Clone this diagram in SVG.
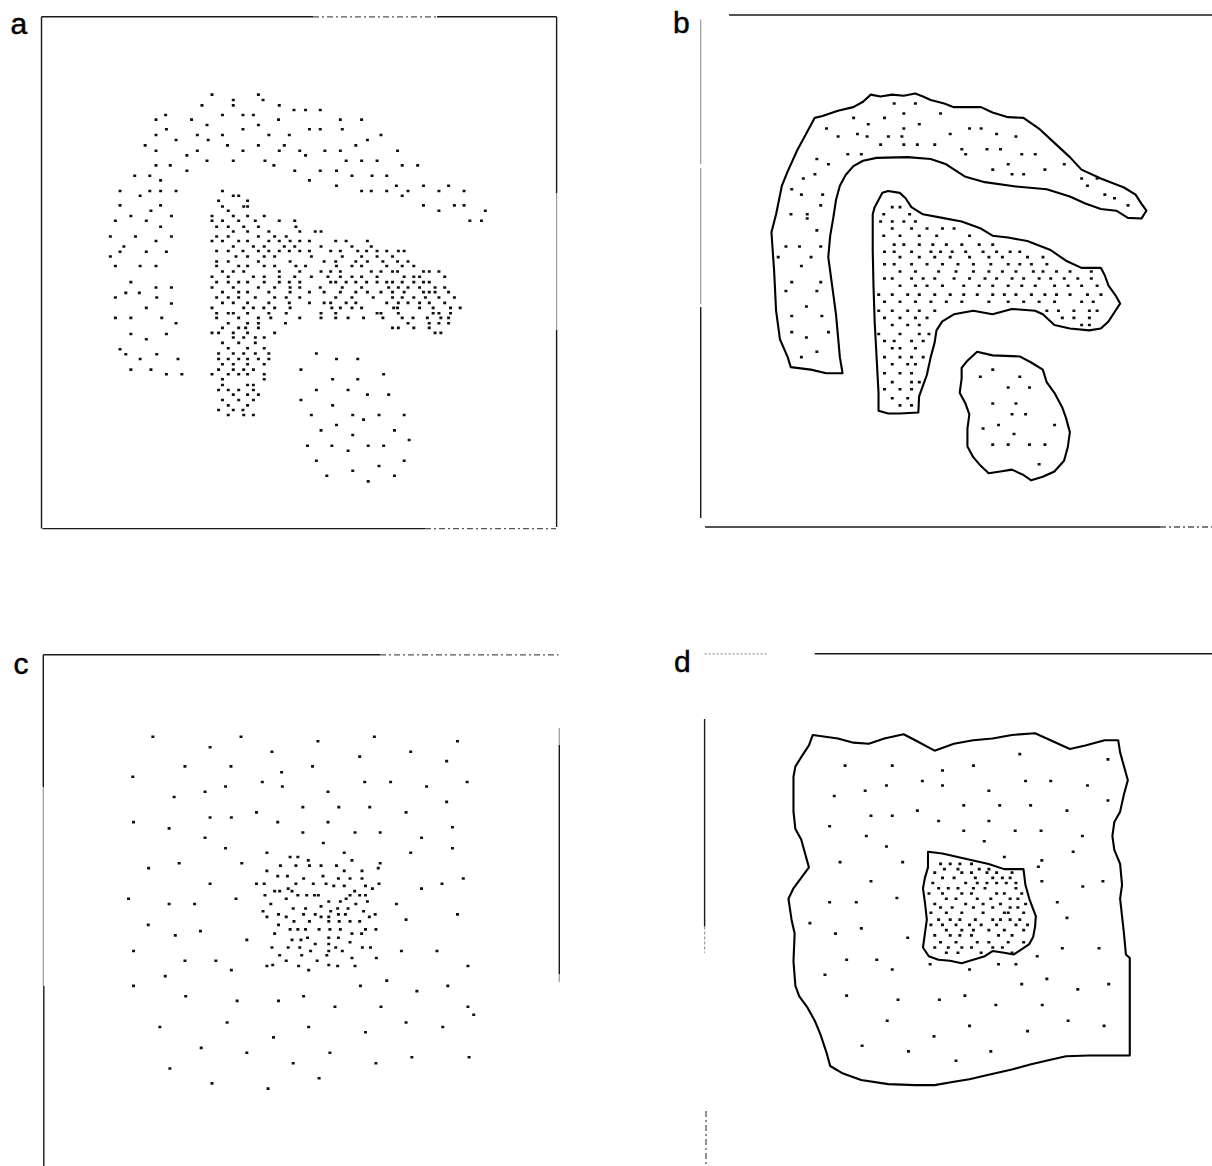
<svg xmlns="http://www.w3.org/2000/svg" width="1212" height="1166" viewBox="0 0 1212 1166">
<style>
.fr{stroke:#1a1a1a;stroke-width:1.4;fill:none}
.fl{stroke:#9a9a9a;stroke-width:1.2;fill:none}
.fd{stroke:#555;stroke-width:1.3;fill:none;stroke-dasharray:6 3 2 3}
.dots{fill:none;stroke:#111;stroke-width:2.6;stroke-linecap:square}
.ol{fill:none;stroke:#000;stroke-width:2.1;stroke-linejoin:round}
.lbl{font-family:"Liberation Sans",Arial,sans-serif;font-size:30px;fill:#000;stroke:#000;stroke-width:0.5}
</style>
<rect width="1212" height="1166" fill="#fff"/>

<g id="panel-a">
<text class="lbl" x="10.5" y="34">a</text>
<g id="frame-a">
<line class="fr" x1="41.5" y1="16.8" x2="313" y2="16.8"/>
<line class="fd" x1="313" y1="16.8" x2="437" y2="16.8"/>
<line class="fr" x1="437" y1="16.8" x2="556.6" y2="16.8"/>
<line class="fr" x1="41.5" y1="16.8" x2="41.5" y2="528.6"/>
<line class="fr" x1="556.6" y1="16.8" x2="556.6" y2="193"/>
<line class="fl" x1="556.6" y1="193" x2="556.6" y2="330"/>
<line class="fr" x1="556.6" y1="330" x2="556.6" y2="527"/>
<line class="fr" x1="42.5" y1="528.6" x2="425" y2="528.6"/>
<line class="fd" x1="425" y1="528.6" x2="556" y2="528.6"/>
</g>
<g id="dots-a" transform="scale(0.38655,0.35714)">
<path class="dots" vector-effect="non-scaling-stroke" d="M548 265h1M668 265h1M603 280h1M680 280h1M522 295h1M603 295h1M722 295h1M760 308h1M790 308h1M828 308h1M428 322h1M575 322h1M628 322h1M655 322h1M403 335h1M495 335h1M720 335h1M880 335h1M935 335h1M535 350h1M668 350h1M430 362h1M628 362h1M800 362h1M828 362h1M885 362h1M403 378h1M510 378h1M575 378h1M695 378h1M748 378h1M985 378h1M455 392h1M538 392h1M950 392h1M375 407h1M588 407h1M668 407h1M735 407h1M920 407h1M403 422h1M510 422h1M628 422h1M722 422h1M775 422h1M840 422h1M880 422h1M1028 422h1M483 435h1M790 435h1M535 450h1M603 450h1M685 450h1M895 450h1M935 450h1M975 450h1M403 463h1M440 463h1M708 463h1M1040 463h1M1080 463h1M483 478h1M762 478h1M828 478h1M870 478h1M348 492h1M387 492h1M910 492h1M962 492h1M1000 492h1M415 505h1M800 505h1M870 520h1M1025 520h1M1095 520h1M1160 520h1M310 535h1M387 535h1M415 535h1M455 535h1M935 535h1M960 535h1M1000 535h1M1055 535h1M1135 535h1M1200 535h1M362 548h1M1040 548h1M310 575h1M415 575h1M1095 575h1M1175 575h1M1200 575h1M390 590h1M1135 590h1M1255 590h1M338 605h1M443 605h1M298 618h1M378 618h1M1215 618h1M1245 618h1M415 635h1M285 662h1M350 662h1M443 662h1M403 675h1M320 690h1M310 705h1M378 705h1M430 705h1M285 718h1M298 745h1M362 745h1M403 745h1M338 790h1M403 805h1M443 805h1M325 820h1M360 820h1M298 833h1M405 833h1M443 850h1M378 862h1M298 890h1M338 890h1M418 890h1M455 905h1M338 935h1M430 935h1M378 950h1M310 978h1M325 992h1M405 992h1M362 1005h1M460 1005h1M338 1035h1M390 1035h1M430 1048h1M470 1048h1"/>
<path class="dots" vector-effect="non-scaling-stroke" d="M575 535h1M603 548h1M617 548h1M565 562h1M640 562h1M575 578h1M630 578h1M640 578h1M590 590h1M548 605h1M603 605h1M640 605h1M683 605h1M548 618h1M575 618h1M617 618h1M660 618h1M722 618h1M762 618h1M560 635h1M590 635h1M630 635h1M668 635h1M765 635h1M603 648h1M640 648h1M695 648h1M775 648h1M815 648h1M830 648h1M560 662h1M590 662h1M668 662h1M710 662h1M740 662h1M548 675h1M575 675h1M617 675h1M640 675h1M695 675h1M722 675h1M750 675h1M775 675h1M800 675h1M868 675h1M895 675h1M950 675h1M603 690h1M655 690h1M683 690h1M735 690h1M762 690h1M830 690h1M910 690h1M960 690h1M560 703h1M590 703h1M628 703h1M668 703h1M695 703h1M722 703h1M748 703h1M775 703h1M800 703h1M855 703h1M880 703h1M925 703h1M948 703h1M975 703h1M1000 703h1M1030 703h1M1045 703h1M610 718h1M640 718h1M683 718h1M710 718h1M805 718h1M885 718h1M935 718h1M975 718h1M1015 718h1M560 732h1M590 732h1M668 732h1M750 732h1M838 732h1M868 732h1M920 732h1M950 732h1M990 732h1M1028 732h1M1055 732h1M560 745h1M617 745h1M640 745h1M683 745h1M710 745h1M765 745h1M790 745h1M870 745h1M910 745h1M935 745h1M1000 745h1M1040 745h1M1070 745h1M575 760h1M603 760h1M630 760h1M722 760h1M775 760h1M830 760h1M855 760h1M880 760h1M960 760h1M985 760h1M1015 760h1M1028 760h1M1095 760h1M1110 760h1M1135 760h1M548 775h1M590 775h1M655 775h1M683 775h1M722 775h1M762 775h1M805 775h1M848 775h1M880 775h1M910 775h1M935 775h1M975 775h1M1045 775h1M1070 775h1M1085 775h1M1150 775h1M560 790h1M590 790h1M617 790h1M640 790h1M683 790h1M722 790h1M748 790h1M775 790h1M855 790h1M868 790h1M895 790h1M920 790h1M948 790h1M975 790h1M1000 790h1M1015 790h1M1040 790h1M1070 790h1M1095 790h1M1110 790h1M548 805h1M603 805h1M668 805h1M710 805h1M750 805h1M775 805h1M828 805h1M885 805h1M935 805h1M1005 805h1M1030 805h1M1055 805h1M1085 805h1M1125 805h1M1150 805h1M575 818h1M617 818h1M640 818h1M695 818h1M750 818h1M800 818h1M838 818h1M880 818h1M920 818h1M950 818h1M985 818h1M1015 818h1M1045 818h1M1095 818h1M1110 818h1M1125 818h1M1160 818h1M560 833h1M590 833h1M617 833h1M660 833h1M710 833h1M740 833h1M775 833h1M868 833h1M910 833h1M965 833h1M1015 833h1M1040 833h1M1070 833h1M1100 833h1M1135 833h1M1175 833h1M575 848h1M603 848h1M640 848h1M695 848h1M748 848h1M800 848h1M838 848h1M855 848h1M895 848h1M920 848h1M1000 848h1M1030 848h1M1055 848h1M1085 848h1M1110 848h1M1150 848h1M548 862h1M630 862h1M655 862h1M682 862h1M710 862h1M750 862h1M858 862h1M880 862h1M910 862h1M935 862h1M1018 862h1M1028 862h1M1085 862h1M1120 862h1M1165 862h1M1190 862h1M560 877h1M590 877h1M603 877h1M640 877h1M695 877h1M740 877h1M830 877h1M868 877h1M975 877h1M985 877h1M1030 877h1M1120 877h1M1135 877h1M1165 877h1M560 890h1M617 890h1M668 890h1M700 890h1M775 890h1M830 890h1M868 890h1M900 890h1M940 890h1M990 890h1M1040 890h1M1068 890h1M1105 890h1M1140 890h1M1160 890h1M590 905h1M640 905h1M668 905h1M738 905h1M1055 905h1M1110 905h1M1135 905h1M1160 905h1M575 918h1M617 918h1M635 918h1M668 918h1M1015 918h1M1030 918h1M1070 918h1M1110 918h1M548 932h1M565 932h1M603 932h1M640 932h1M710 932h1M1125 932h1M1140 932h1M603 945h1M630 945h1M660 945h1M683 945h1M575 960h1M617 960h1M660 960h1M590 975h1M640 975h1M683 975h1M565 990h1M603 990h1M630 990h1M660 990h1M695 990h1M565 1005h1M590 1005h1M617 1005h1M640 1005h1M668 1005h1M695 1005h1M575 1020h1M603 1020h1M640 1020h1M683 1020h1M565 1035h1M603 1035h1M630 1035h1M655 1035h1M548 1048h1M590 1048h1M617 1048h1M640 1048h1M683 1048h1M575 1062h1M683 1062h1M575 1078h1M640 1078h1M655 1078h1M565 1092h1M590 1092h1M617 1092h1M655 1092h1M603 1105h1M640 1105h1M668 1105h1M575 1120h1M617 1120h1M655 1120h1M590 1135h1M640 1135h1M565 1148h1M603 1148h1M628 1148h1M590 1162h1M630 1162h1M655 1162h1"/>
<path class="dots" vector-effect="non-scaling-stroke" d="M818 990h1M870 1005h1M925 1005h1M778 1035h1M992 1048h1M860 1062h1M925 1062h1M818 1092h1M900 1092h1M950 1105h1M1005 1105h1M778 1120h1M860 1135h1M805 1162h1M912 1162h1M980 1162h1M1045 1162h1M940 1175h1M870 1190h1M830 1205h1M1020 1205h1M912 1218h1M1058 1232h1M795 1248h1M858 1248h1M952 1248h1M992 1248h1M900 1262h1M818 1290h1M1045 1290h1M980 1305h1M912 1318h1M845 1332h1M1020 1332h1M952 1348h1"/>
</g>
</g>

<g id="panel-b">
<text class="lbl" x="673" y="33">b</text>
<g id="frame-b">
<line class="fl" x1="700.7" y1="19.6" x2="700.7" y2="164"/>
<line class="fl" x1="700.7" y1="168" x2="700.7" y2="304"/>
<line class="fr" x1="700.7" y1="307" x2="700.7" y2="518"/>
<line class="fr" x1="729" y1="15" x2="1212" y2="15"/>
<line class="fr" x1="705" y1="527" x2="1160" y2="527"/>
<line class="fd" x1="1160" y1="527" x2="1212" y2="527"/>
</g>
<g id="shapes-b" transform="translate(606,0) scale(0.38655,0.35714)">
<path id="b-arc" class="ol" vector-effect="non-scaling-stroke" d="M478 1028L470 1000L450 950L440 870L435 760L428 650L440 600L455 520L470 480L495 420L515 380L530 350L540 330L560 325L600 310L640 300L665 285L685 265L710 270L740 265L770 268L800 262L820 270L840 280L875 290L900 300L970 300L1000 315L1040 328L1080 330L1120 360L1160 400L1200 440L1230 475L1280 500L1340 525L1370 545L1385 570L1398 590L1385 612L1350 610L1320 590L1280 585L1240 570L1200 550L1140 530L1060 522L980 510L930 495L880 460L840 445L780 440L700 442L665 450L640 465L620 490L605 520L595 560L588 610L580 660L575 720L585 800L595 880L600 940L605 1000L612 1045L570 1045L530 1035Z"/>
<path id="b-t" class="ol" vector-effect="non-scaling-stroke" d="M705 1150L705 1100L700 1000L695 900L692 800L690 700L690 600L695 580L705 560L715 540L730 535L760 540L775 555L790 580L820 600L870 610L920 620L970 640L1000 660L1040 665L1090 675L1150 700L1190 730L1230 750L1280 750L1290 770L1300 800L1320 830L1330 850L1315 875L1300 900L1280 920L1250 925L1200 920L1160 910L1130 880L1110 870L1050 865L1000 880L950 870L900 880L870 900L855 925L850 960L840 1000L830 1050L820 1080L810 1110L808 1155L760 1158L730 1158Z"/>
<path id="b-blob" class="ol" vector-effect="non-scaling-stroke" d="M960 985L1000 995L1070 998L1100 1015L1130 1035L1140 1070L1160 1100L1180 1140L1190 1170L1200 1210L1195 1250L1185 1290L1160 1320L1130 1335L1100 1345L1080 1330L1050 1315L1020 1320L990 1325L970 1305L950 1280L935 1250L935 1200L940 1160L930 1130L915 1100L920 1060L920 1030L935 1010Z"/>
<path class="dots" vector-effect="non-scaling-stroke" d="M745 290h1M800 290h1M770 318h1M865 318h1M640 330h1M720 330h1M678 348h1M810 348h1M570 360h1M770 360h1M940 360h1M970 360h1M650 375h1M890 375h1M1010 375h1M600 382h1M675 382h1M730 382h1M765 382h1M1060 382h1M710 405h1M770 405h1M805 405h1M850 405h1M920 418h1M985 418h1M1020 418h1M625 432h1M660 432h1M930 432h1M1075 432h1M1110 432h1M545 445h1M575 460h1M1040 460h1M1185 460h1M1000 475h1M1135 475h1M540 488h1M1050 488h1M1080 488h1M510 500h1M1230 500h1M1270 500h1M1245 520h1M480 530h1M505 545h1M560 545h1M1290 545h1M1315 555h1M555 575h1M1350 575h1M478 600h1M520 600h1M520 612h1M545 645h1M465 690h1M500 690h1M555 690h1M445 720h1M530 720h1M505 745h1M480 790h1M555 790h1M465 815h1M545 815h1M518 858h1M480 885h1M558 885h1M480 930h1M575 930h1M518 945h1M545 985h1M505 1000h1"/>
<path class="dots" vector-effect="non-scaling-stroke" d="M740 580h1M760 580h1M718 600h1M785 600h1M710 620h1M740 620h1M770 620h1M800 620h1M740 640h1M790 640h1M830 640h1M870 640h1M900 640h1M718 660h1M760 660h1M810 660h1M855 660h1M940 660h1M745 685h1M770 685h1M810 685h1M845 685h1M880 685h1M920 685h1M965 685h1M1000 685h1M720 705h1M745 705h1M790 705h1M840 705h1M865 705h1M895 705h1M930 705h1M975 705h1M1010 705h1M1045 705h1M1070 705h1M760 720h1M810 720h1M850 720h1M890 720h1M940 720h1M990 720h1M1025 720h1M1090 720h1M1130 720h1M720 740h1M745 740h1M790 740h1M830 740h1M870 740h1M910 740h1M950 740h1M995 740h1M1040 740h1M1070 740h1M1100 740h1M1140 740h1M760 760h1M800 760h1M860 760h1M905 760h1M950 760h1M990 760h1M1025 760h1M1060 760h1M1105 760h1M1130 760h1M1165 760h1M1200 760h1M1255 760h1M720 780h1M740 780h1M790 780h1M820 780h1M850 780h1M900 780h1M940 780h1M980 780h1M1010 780h1M1050 780h1M1080 780h1M1120 780h1M1150 780h1M1185 780h1M1220 780h1M1255 780h1M760 800h1M800 800h1M830 800h1M870 800h1M925 800h1M965 800h1M1000 800h1M1040 800h1M1075 800h1M1110 800h1M1160 800h1M1195 800h1M1230 800h1M1270 800h1M705 825h1M740 825h1M780 825h1M810 825h1M850 825h1M890 825h1M925 825h1M960 825h1M1000 825h1M1030 825h1M1060 825h1M1100 825h1M1135 825h1M1165 825h1M1200 825h1M1245 825h1M1280 825h1M720 845h1M760 845h1M800 845h1M840 845h1M880 845h1M920 845h1M990 845h1M1040 845h1M1080 845h1M1120 845h1M1160 845h1M1230 845h1M1260 845h1M705 870h1M740 870h1M780 870h1M810 870h1M850 870h1M1140 870h1M1170 870h1M1210 870h1M1250 870h1M1270 870h1M720 890h1M760 890h1M800 890h1M830 890h1M1180 890h1M1210 890h1M1250 890h1M740 910h1M780 910h1M810 910h1M1230 910h1M1250 910h1M705 935h1M760 935h1M810 935h1M835 935h1M720 955h1M745 955h1M790 955h1M820 955h1M740 975h1M760 975h1M800 975h1M720 1000h1M760 1000h1M790 1000h1M820 1000h1M740 1020h1M780 1020h1M800 1020h1M720 1045h1M760 1045h1M790 1045h1M740 1070h1M790 1070h1M810 1070h1M720 1090h1M760 1090h1M790 1090h1M740 1115h1M780 1115h1M760 1135h1M790 1135h1"/>
<path class="dots" vector-effect="non-scaling-stroke" d="M1000 1035h1M968 1055h1M1070 1055h1M1040 1085h1M1095 1085h1M1000 1130h1M1060 1130h1M1050 1160h1M1085 1160h1M1015 1190h1M1160 1190h1M975 1200h1M1055 1215h1M1000 1245h1M1040 1245h1M1095 1245h1M1135 1245h1M1120 1300h1"/>
</g>
</g>

<g id="panel-c">
<text class="lbl" x="13.5" y="674">c</text>
<g id="frame-c">
<line class="fr" x1="43.3" y1="654.8" x2="380" y2="654.8"/>
<line class="fd" x1="380" y1="654.8" x2="558.6" y2="654.8"/>
<line class="fr" x1="43.3" y1="654.8" x2="43.3" y2="787"/>
<line class="fl" x1="43.3" y1="787" x2="43.3" y2="986"/>
<line class="fr" x1="43.8" y1="986" x2="43.8" y2="1166"/>
<line class="fr" x1="559.3" y1="745" x2="559.3" y2="974"/>
<line class="fl" x1="559.3" y1="728" x2="559.3" y2="745"/>
<line class="fl" x1="559.3" y1="974" x2="559.3" y2="982"/>
</g>
<g id="dots-c" transform="translate(0,620) scale(0.38655,0.34843)">
<path class="dots" vector-effect="non-scaling-stroke" d="M395 335h1M623 335h1M968 335h1M822 348h1M1183 348h1M543 365h1M703 378h1M1062 378h1M930 392h1M1155 405h1M478 420h1M597 420h1M808 420h1M728 437h1M343 450h1M678 465h1M943 465h1M1010 465h1M1208 465h1M583 478h1M730 478h1M1103 478h1M530 493h1M848 493h1M450 508h1M1155 522h1M783 537h1M876 537h1M956 537h1M663 552h1M1050 552h1M543 567h1M598 567h1M345 580h1M718 580h1M848 580h1M1170 595h1M437 598h1M783 610h1M918 610h1M983 610h1M530 625h1M1090 625h1M836 640h1M583 655h1M1170 655h1M690 668h1M890 668h1M1062 668h1M750 680h1M770 680h1M797 690h1M910 690h1M463 698h1M625 698h1M983 698h1M725 705h1M765 705h1M800 705h1M830 705h1M870 705h1M384 712h1M978 712h1M690 720h1M890 720h1M936 720h1M718 735h1M743 735h1M835 735h1M785 742h1M875 742h1M905 742h1M936 742h1M1198 742h1M543 757h1M663 757h1M683 757h1M765 757h1M810 757h1M843 757h1M980 757h1M1143 757h1M863 763h1M890 763h1M945 763h1M745 771h1M963 771h1M1090 771h1M710 778h1M723 778h1M755 778h1M917 778h1M685 790h1M770 790h1M793 790h1M813 790h1M823 790h1M945 790h1M905 790h1M930 790h1M332 800h1M610 800h1M740 800h1M895 800h1M850 808h1M880 808h1M950 808h1M437 815h1M503 815h1M700 815h1M920 815h1M1025 815h1M830 822h1M758 828h1M790 828h1M900 828h1M873 828h1M680 836h1M855 836h1M940 836h1M720 845h1M785 845h1M815 845h1M875 845h1M893 845h1M970 845h1M1183 845h1M690 852h1M740 852h1M830 852h1M850 852h1M955 852h1M1050 860h1M760 865h1M800 865h1M850 865h1M877 865h1M905 865h1M930 865h1M383 875h1M720 875h1M750 888h1M770 888h1M790 888h1M825 888h1M853 888h1M880 888h1M945 888h1M972 888h1M518 893h1M710 900h1M910 900h1M935 900h1M453 905h1M795 912h1M850 912h1M875 912h1M638 918h1M755 918h1M778 918h1M905 925h1M815 930h1M850 930h1M703 940h1M745 940h1M775 940h1M868 940h1M937 940h1M958 940h1M345 950h1M803 950h1M850 950h1M885 950h1M1038 950h1M1130 950h1M723 962h1M780 962h1M845 962h1M910 970h1M973 970h1M478 978h1M558 978h1M740 978h1M820 978h1M705 990h1M850 990h1M690 993h1M772 993h1M873 993h1M918 993h1M1210 993h1M598 1005h1M798 1005h1M427 1022h1M1000 1035h1M345 1050h1M932 1050h1M1158 1050h1M1078 1065h1M480 1080h1M785 1080h1M613 1093h1M720 1093h1M866 1110h1M985 1110h1M1210 1110h1M1225 1133h1M587 1155h1M1050 1155h1M413 1168h1M798 1168h1M1145 1168h1M945 1183h1M707 1198h1M520 1228h1M638 1242h1M853 1242h1M1065 1255h1M1213 1255h1M758 1272h1M972 1272h1M439 1287h1M825 1315h1M548 1330h1M693 1345h1"/>
</g>
</g>

<g id="panel-d">
<text class="lbl" x="674" y="672">d</text>
<g id="frame-d">
<line class="fl" x1="704.6" y1="653.8" x2="768" y2="653.8" stroke-dasharray="2 2"/>
<line class="fr" x1="814.7" y1="653.8" x2="1212" y2="653.8"/>
<line class="fr" x1="704.6" y1="719" x2="704.6" y2="926.6"/>
<line class="fl" x1="704.6" y1="926.6" x2="704.6" y2="952.7" stroke-dasharray="3 2"/>
<line class="fd" x1="706" y1="1111" x2="706" y2="1166"/>
</g>
<g id="shapes-d" transform="translate(606,620) scale(0.38655,0.34843)">
<path id="d-outer" class="ol" vector-effect="non-scaling-stroke" d="M535 330L600 340L640 352L680 355L720 340L770 328L800 345L850 375L900 355L950 345L1000 340L1050 330L1110 325L1150 345L1200 370L1240 360L1290 345L1325 345L1330 380L1340 420L1350 460L1340 500L1330 550L1315 580L1310 620L1315 660L1330 700L1335 760L1330 800L1335 850L1340 900L1345 960L1355 970L1355 1250L1250 1250L1190 1252L1150 1262L1100 1275L1050 1290L990 1305L940 1318L900 1325L850 1335L800 1335L730 1332L660 1320L610 1300L580 1280L570 1240L555 1190L540 1150L520 1110L500 1080L490 1050L485 980L488 900L480 860L472 800L485 770L505 740L525 710L515 670L505 630L490 600L485 550L485 450L490 420L510 385L525 360Z"/>
<path id="d-inner" class="ol" vector-effect="non-scaling-stroke" d="M833 665L870 670L910 680L950 690L990 700L1030 715L1080 715L1085 760L1095 800L1105 830L1112 850L1110 880L1105 910L1095 930L1075 945L1055 960L1030 955L1000 950L980 965L950 975L920 985L890 978L860 975L835 965L820 940L825 900L830 860L825 810L820 770L825 740L833 710Z"/>
<path class="dots" vector-effect="non-scaling-stroke" d="M1070 385h1M1298 400h1M618 418h1M740 418h1M950 418h1M870 432h1M818 462h1M1085 462h1M1150 462h1M725 475h1M870 475h1M1245 475h1M670 490h1M990 490h1M590 505h1M1298 518h1M925 532h1M1018 532h1M1098 532h1M805 547h1M1192 547h1M685 562h1M740 562h1M860 577h1M990 577h1M578 592h1M925 605h1M1058 605h1M1125 605h1M673 620h1M1232 620h1M978 635h1M725 650h1M1208 665h1M1030 680h1M1127 690h1M605 695h1M767 695h1M1118 708h1M685 750h1M1127 750h1M1285 750h1M1233 765h1M752 798h1M578 810h1M647 810h1M1167 810h1M1192 855h1M527 870h1M660 885h1M593 900h1M780 912h1M1180 942h1M1275 942h1M1115 965h1M622 975h1M700 975h1M838 988h1M1015 988h1M1060 988h1M740 1003h1M940 1003h1M566 1018h1M1140 1030h1M1075 1045h1M1300 1045h1M1220 1060h1M622 1078h1M928 1078h1M755 1090h1M862 1090h1M1008 1105h1M1128 1105h1M727 1150h1M1195 1150h1M940 1165h1M1288 1165h1M1090 1180h1M848 1195h1M662 1222h1M782 1238h1M995 1238h1M905 1265h1"/>
<path class="dots" vector-effect="non-scaling-stroke" d="M865 700h1M890 700h1M915 700h1M945 700h1M875 715h1M910 715h1M965 715h1M990 715h1M850 725h1M920 725h1M945 725h1M985 725h1M1010 725h1M1050 725h1M870 740h1M900 740h1M955 740h1M1000 740h1M1025 740h1M1045 740h1M845 755h1M930 755h1M960 755h1M985 755h1M1010 755h1M1035 755h1M1060 755h1M860 770h1M885 770h1M910 770h1M950 770h1M980 770h1M1060 770h1M835 785h1M870 785h1M920 785h1M945 785h1M1010 785h1M1030 785h1M1075 785h1M880 800h1M905 800h1M960 800h1M995 800h1M1045 800h1M1065 800h1M850 815h1M930 815h1M975 815h1M1020 815h1M1085 815h1M865 825h1M895 825h1M950 825h1M1000 825h1M1045 825h1M1065 825h1M840 840h1M880 840h1M920 840h1M975 840h1M1030 840h1M1040 840h1M1080 840h1M860 860h1M890 860h1M915 860h1M955 860h1M1000 860h1M1020 860h1M1045 860h1M1070 860h1M840 875h1M870 875h1M905 875h1M940 875h1M970 875h1M1010 875h1M1060 875h1M1090 875h1M880 890h1M920 890h1M950 890h1M990 890h1M1030 890h1M1080 890h1M850 905h1M890 905h1M915 905h1M945 905h1M1015 905h1M1050 905h1M865 925h1M905 925h1M960 925h1M990 925h1M1040 925h1M1080 925h1M850 940h1M885 940h1M920 940h1M945 940h1M1000 940h1M1025 940h1M880 955h1M910 955h1M970 955h1M1050 955h1"/>
</g>
</g>
</svg>
